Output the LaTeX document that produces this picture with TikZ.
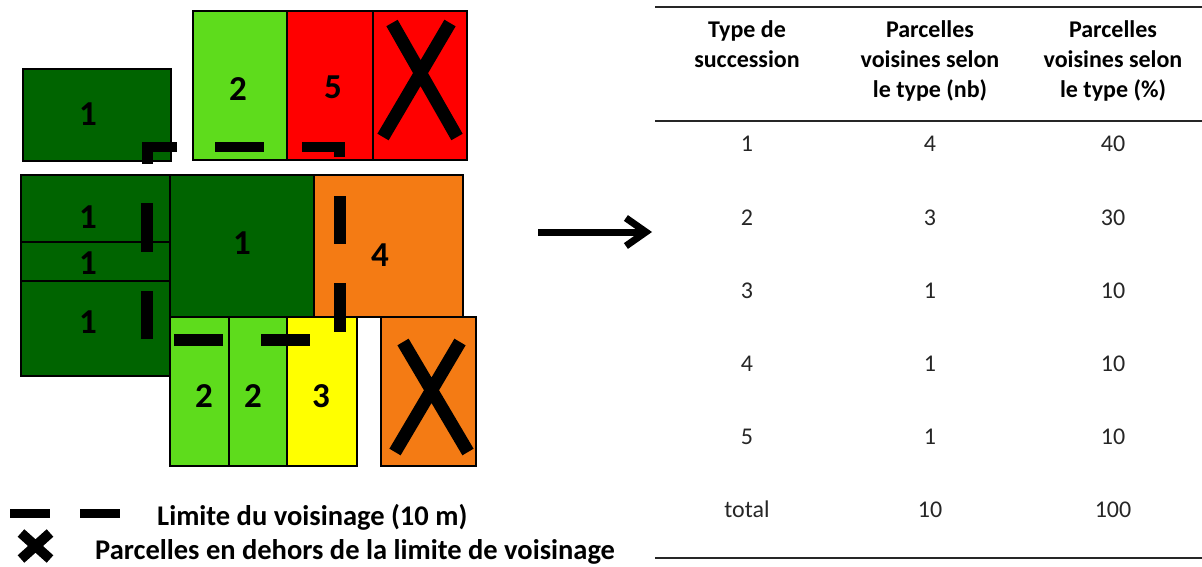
\documentclass[tikz,border=0pt]{standalone}
\usepackage{fontspec}
\setmainfont{Carlito}
\usetikzlibrary{arrows.meta}
\definecolor{dkgreen}{RGB}{0,100,0}
\definecolor{ltgreen}{RGB}{94,220,28}
\definecolor{pred}{RGB}{255,0,0}
\definecolor{porange}{RGB}{244,123,20}
\definecolor{pyellow}{RGB}{255,255,0}
\begin{document}
\begin{tikzpicture}[x=1pt,y=-1pt,
  parcel/.style={draw=black,line width=1.5pt},
  num/.style={font=\bfseries\fontsize{35}{40}\selectfont,inner sep=0pt},
  bar/.style={fill=black},
  cross/.style={line width=13pt,draw=black},
  hdr/.style={font=\bfseries\fontsize{24}{30}\selectfont,anchor=base,inner sep=0pt},
  cell/.style={font=\fontsize{24}{30}\selectfont,anchor=base,inner sep=0pt,text=black!85},
  rule/.style={line width=2.5pt,draw=black!85},
  leg/.style={font=\bfseries\fontsize{28.5}{34}\selectfont,anchor=base west,inner sep=0pt}]
\useasboundingbox (0,0) rectangle (1202,567);
% ---- parcels ----
\draw[parcel,fill=dkgreen] (23,69) rectangle (171,161);
\draw[parcel,fill=ltgreen] (193,11) rectangle (287,160);
\draw[parcel,fill=pred] (287,11) rectangle (373,160);
\draw[parcel,fill=pred] (373,11) rectangle (467,160);
\draw[parcel,fill=dkgreen] (21,175) rectangle (170,242);
\draw[parcel,fill=dkgreen] (21,242) rectangle (170,281);
\draw[parcel,fill=dkgreen] (21,281) rectangle (170,376);
\draw[parcel,fill=dkgreen] (170,175) rectangle (314,317);
\draw[parcel,fill=porange] (314,175) rectangle (463,317);
\draw[parcel,fill=ltgreen] (170,317) rectangle (229,466);
\draw[parcel,fill=ltgreen] (229,317) rectangle (287,466);
\draw[parcel,fill=pyellow] (287,317) rectangle (357,466);
\draw[parcel,fill=porange] (381,317) rectangle (476,466);
% ---- labels ----
\node[num] (pA) at (88,114) {1};
\node[num] (pB) at (238,89) {2};
\node[num] (pC) at (333,87) {5};
\node[num] (pE1) at (88,217) {1};
\node[num] (pE2) at (88,263) {1};
\node[num] (pE3) at (88,322) {1};
\node[num] (pF) at (242,243) {1};
\node[num] (pG) at (380,255) {4};
\node[num] (pH1) at (204,396) {2};
\node[num] (pH2) at (253,396) {2};
\node[num] (pH3) at (321,396) {3};
% ---- crosses ----
\draw[cross] (392,23) -- (457,137) (450,23) -- (383,137);
\draw[cross] (403,342) -- (468,452) (460,342) -- (395,452);
% ---- neighbourhood limit ----
\fill[bar] (142,142) rectangle (177,152);
\fill[bar] (142,142) rectangle (153,164);
\fill[bar] (215,142) rectangle (264,152);
\fill[bar] (302,142) rectangle (345,152);
\fill[bar] (334,142) rectangle (345,157);
\fill[bar] (141,203) rectangle (153,252);
\fill[bar] (141,291) rectangle (153,339);
\fill[bar] (334,196) rectangle (346,244);
\fill[bar] (334,283) rectangle (346,332);
\fill[bar] (174,334) rectangle (223,346);
\fill[bar] (261,334) rectangle (310,346);
% ---- legend ----
\fill[bar] (10,509) rectangle (50,518);
\fill[bar] (80,509) rectangle (120,518);
\draw[line width=10pt] (21,533) -- (50,559) (50,533) -- (21,559);
\node[leg] (l1) at (157,525) {Limite du voisinage (10 m)};
\node[leg] (l2) at (95,559) {Parcelles en dehors de la limite de voisinage};
% ---- arrow ----
\coordinate (arrS) at (538,232);
\coordinate (arrE) at (652,232);
\draw[line width=7pt,-{Straight Barb[length=20pt,width=28pt]}] (arrS) -- (arrE);
% ---- table ----
\draw[rule] (655,7) -- (1202,7);
\draw[rule] (655,121) -- (1202,121);
\draw[rule] (655,558) -- (1202,558);
\node[hdr] (h11) at (747,38) {Type de};
\node[hdr] (h12) at (747,68) {succession};
\node[hdr] (h21) at (930,38) {Parcelles};
\node[hdr] (h22) at (930,68) {voisines selon};
\node[hdr] (h23) at (930,98) {le type (nb)};
\node[hdr] (h31) at (1113,38) {Parcelles};
\node[hdr] (h32) at (1113,68) {voisines selon};
\node[hdr] (h33) at (1113,98) {le type (\%)};
\node[cell] (r1a) at (747,151) {1};
\node[cell] (r1b) at (930,151) {4};
\node[cell] (r1c) at (1113,151) {40};
\node[cell] (r2a) at (747,225) {2};
\node[cell] (r2b) at (930,225) {3};
\node[cell] (r2c) at (1113,225) {30};
\node[cell] (r3a) at (747,298) {3};
\node[cell] (r3b) at (930,298) {1};
\node[cell] (r3c) at (1113,298) {10};
\node[cell] (r4a) at (747,371) {4};
\node[cell] (r4b) at (930,371) {1};
\node[cell] (r4c) at (1113,371) {10};
\node[cell] (r5a) at (747,444) {5};
\node[cell] (r5b) at (930,444) {1};
\node[cell] (r5c) at (1113,444) {10};
\node[cell] (r6a) at (747,517) {total};
\node[cell] (r6b) at (930,517) {10};
\node[cell] (r6c) at (1113,517) {100};
\end{tikzpicture}
\end{document}
